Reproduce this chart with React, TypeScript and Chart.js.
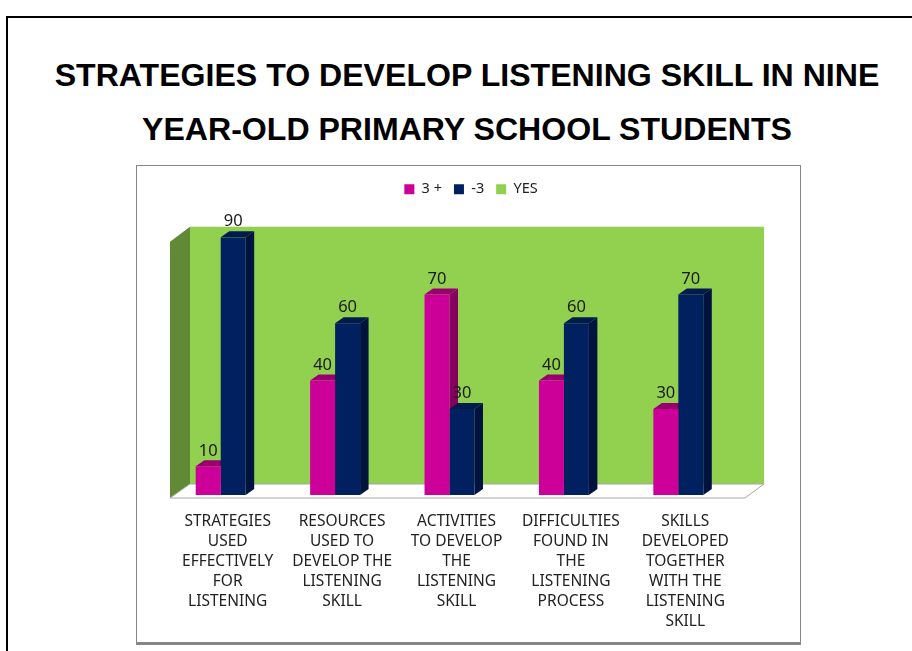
import React, { useEffect, useRef } from "react";
import { Chart, registerables } from "chart.js";

Chart.register(...registerables);

const titleLines = ["STRATEGIES TO DEVELOP LISTENING SKILL IN NINE", "YEAR-OLD PRIMARY SCHOOL STUDENTS"];
const categories = [
  ["STRATEGIES", "USED", "EFFECTIVELY", "FOR", "LISTENING"],
  ["RESOURCES", "USED TO", "DEVELOP THE", "LISTENING", "SKILL"],
  ["ACTIVITIES", "TO DEVELOP", "THE", "LISTENING", "SKILL"],
  ["DIFFICULTIES", "FOUND IN", "THE", "LISTENING", "PROCESS"],
  ["SKILLS", "DEVELOPED", "TOGETHER", "WITH THE", "LISTENING", "SKILL"],
];
const plus3 = [10, 40, 70, 40, 30];
const minus3 = [90, 60, 30, 60, 70];
const yes = [null, null, null, null, null];

const PINK = "#CC0099";
const PINK_TOP = "#99006F";
const PINK_SIDE = "#860060";
const NAVY = "#002060";
const NAVY_TOP = "#001A4D";
const NAVY_SIDE = "#00133F";
const GREEN = "#92D050";
const WALL = "#628A36";
const FLOOR_LINE = "#A6A6A6";
const DX = 8.5;
const DY = 6;
const FONT = "'Noto Sans', sans-serif";

function poly(ctx: CanvasRenderingContext2D, pts: number[][], fill: string | null, stroke?: string) {
  ctx.beginPath();
  pts.forEach((p, i) => (i ? ctx.lineTo(p[0], p[1]) : ctx.moveTo(p[0], p[1])));
  ctx.closePath();
  if (fill) {
    ctx.fillStyle = fill;
    ctx.fill();
  }
  if (stroke) {
    ctx.strokeStyle = stroke;
    ctx.lineWidth = 1;
    ctx.stroke();
  }
}

const scene3d = {
  id: "scene3d",
  beforeDatasetsDraw(chart: any) {
    const { ctx, chartArea: a } = chart;
    const fl = a.left - 6;
    const fr = a.right - 3;
    const bl = a.left + 14;
    const br = a.right + 16;
    const topBack = a.top - 10.5;
    const topFront = a.top + 4.5;
    const floorBack = a.bottom - 11;
    const floorFront = a.bottom + 3;
    ctx.save();
    poly(ctx, [[bl, topBack], [br, topBack], [br, floorBack], [bl, floorBack]], GREEN);
    poly(ctx, [[fl, topFront], [bl, topBack], [bl, floorBack], [fl, floorFront]], WALL);
    poly(ctx, [[fl, floorFront], [bl, floorBack], [br, floorBack], [fr, floorFront]], "#FFFFFF", FLOOR_LINE);
    const looks = [[PINK_TOP, PINK_SIDE], [NAVY_TOP, NAVY_SIDE]];
    looks.forEach((look, d) => {
      chart.getDatasetMeta(d).data.forEach((bar: any) => {
        const half = bar.width / 2;
        const l = bar.x - half;
        const r = bar.x + half;
        const t = bar.y;
        const b = bar.base;
        poly(ctx, [[r, t], [r + DX, t - DY], [r + DX, b - DY], [r, b]], look[1]);
        poly(ctx, [[l, t], [r, t], [r + DX, t - DY], [l + DX, t - DY]], look[0]);
      });
    });
    ctx.restore();
  },
  afterDatasetsDraw(chart: any) {
    const { ctx } = chart;
    ctx.save();
    ctx.fillStyle = "#1A1A1A";
    ctx.font = `16.5px ${FONT}`;
    ctx.textAlign = "center";
    ctx.textBaseline = "middle";
    [0, 1].forEach((d) => {
      const values = chart.data.datasets[d].data;
      chart.getDatasetMeta(d).data.forEach((bar: any, i: number) => {
        ctx.fillText(String(values[i]), bar.x, bar.y - 15.5);
      });
    });
    ctx.restore();
  },
};

export default function App() {
  const ref = useRef<HTMLCanvasElement>(null);
  useEffect(() => {
    const chart = new Chart(ref.current as HTMLCanvasElement, {
      type: "bar",
      data: {
        labels: categories as any,
        datasets: [
          { label: "3 +", data: plus3, backgroundColor: PINK },
          { label: "-3", data: minus3, backgroundColor: NAVY },
          { label: "YES", data: yes as any, backgroundColor: GREEN },
        ],
      },
      plugins: [scene3d],
      options: {
        animation: false,
        responsive: false,
        devicePixelRatio: 1,
        layout: { padding: { left: 40, right: 34, top: 5, bottom: 0 } },
        datasets: { bar: { categoryPercentage: 0.655, barPercentage: 1 } },
        plugins: {
          legend: {
            position: "top",
            labels: { boxWidth: 10, boxHeight: 10, padding: 12, color: "#222222", font: { family: FONT, size: 14.5 } },
          },
          title: {
            display: true,
            text: "",
            weight: 500,
            font: { size: 1 },
            padding: { top: 0, bottom: 29.5 },
          },
          tooltip: { enabled: false },
        },
        scales: {
          x: {
            grid: { display: false },
            border: { display: false },
            afterFit(scale: any) {
              scale.height = 146;
            },
            ticks: {
              autoSkip: false,
              maxRotation: 0,
              minRotation: 0,
              padding: 9,
              labelOffset: -5.5,
              color: "#222222",
              font: { family: FONT, size: 15.5, lineHeight: 1.29 },
            },
          },
          y: {
            position: "right",
            min: 0,
            max: 90,
            grid: { display: false },
            border: { display: false },
            ticks: { display: false },
            afterFit(scale: any) {
              scale.width = 18;
            },
          },
        },
      } as any,
    });
    return () => chart.destroy();
  }, []);

  return (
    <div style={{ position: "fixed", left: 0, top: 0, width: 912, height: 651, overflow: "hidden", background: "#fff" }}>
      <div style={{ position: "absolute", left: 6, top: 16, width: 920, height: 650, borderLeft: "2px solid #000", borderTop: "2px solid #000" }} />
      <div
        style={{
          position: "absolute",
          left: 8,
          width: 918,
          top: 48,
          textAlign: "center",
          fontFamily: "'Liberation Sans', Arial, sans-serif",
          fontWeight: 700,
          fontSize: 32.1,
          lineHeight: "54px",
          color: "#000",
        }}
      >
        {titleLines.map((t) => (
          <div key={t} style={{ whiteSpace: "nowrap" }}>{t}</div>
        ))}
      </div>
      <div
        style={{
          position: "absolute",
          left: 136,
          top: 165,
          width: 665,
          height: 480,
          boxSizing: "border-box",
          border: "1px solid #868686",
          borderBottom: "3px solid #868686",
          background: "#fff",
        }}
      />
      <canvas ref={ref} width={664} height={476} style={{ position: "absolute", left: 136, top: 165, width: 664, height: 476 }} />
    </div>
  );
}
